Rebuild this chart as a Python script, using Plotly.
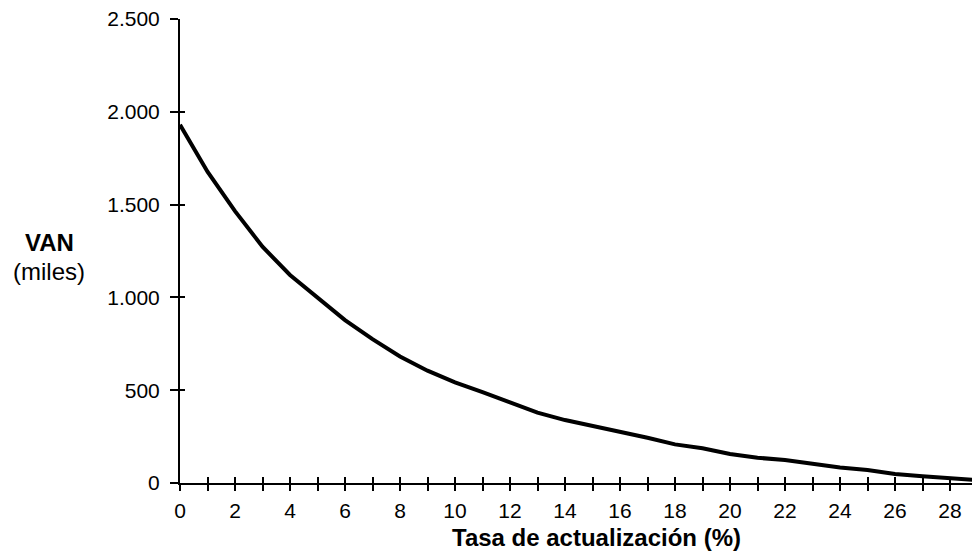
import plotly.graph_objects as go

tasa = [0, 1, 2, 3, 4, 5, 6, 7, 8, 9, 10, 11, 12, 13, 14, 15, 16, 17, 18, 19, 20,
        21, 22, 23, 24, 25, 26, 27, 28, 29]
van = [1930, 1677, 1465, 1273, 1121, 997, 878, 775, 682, 605, 542, 489, 435, 379, 339,
       309, 276, 244, 208, 187, 156, 136, 124, 102, 83, 70, 48, 36, 25, 16]

y_ticks = [0, 500, 1000, 1500, 2000, 2500]
y_labels = ["0", "500", "1.000", "1.500", "2.000", "2.500"]
x_ticks = list(range(0, 29, 2))
x_minor = list(range(0, 29))

font = "Liberation Sans, Arial, sans-serif"
X_RANGE = [0, 28.8]
Y_RANGE = [0, 2500]

W, H = 972, 551
L, R, T, B = 180, 0, 19, 68
PW, PH = W - L - R, H - T - B


def px_x(x):
    return (x - L) / PW


def px_y(y):
    return (H - B - y) / PH


fig = go.Figure()
fig.add_trace(go.Scatter(x=tasa, y=van, mode="lines",
                         line=dict(color="black", width=4), showlegend=False))
# invisible traces so the overlay axes are drawn
fig.add_trace(go.Scatter(x=[0], y=[0], xaxis="x2", yaxis="y2", mode="markers",
                         marker=dict(opacity=0), showlegend=False, hoverinfo="skip"))

tick_common = dict(tickwidth=1.5, tickcolor="black", showgrid=False,
                   zeroline=False, automargin=False)

fig.update_layout(
    width=W, height=H,
    margin=dict(l=L, r=R, t=T, b=B, autoexpand=False),
    paper_bgcolor="white", plot_bgcolor="white",
    font=dict(family=font, size=21, color="black"),
    xaxis=dict(range=X_RANGE, tickvals=x_ticks, ticks="outside", ticklen=6,
               showline=True, linecolor="black", linewidth=2,
               minor=dict(tickvals=x_minor, ticks="outside", ticklen=6,
                          tickwidth=1.5, tickcolor="black", showgrid=False),
               tickfont=dict(size=21), ticklabelstandoff=2, **tick_common),
    xaxis2=dict(range=X_RANGE, overlaying="x", side="bottom", anchor="y2",
                tickvals=x_minor, ticks="inside", ticklen=6,
                showticklabels=False, showline=False, **tick_common),
    yaxis=dict(range=Y_RANGE, tickvals=y_ticks, ticktext=y_labels,
               ticks="outside", ticklen=8, showline=True, linecolor="black",
               linewidth=2, tickfont=dict(size=21), ticklabelstandoff=6,
               **tick_common),
    yaxis2=dict(range=Y_RANGE, overlaying="y", side="left", anchor="x2",
                tickvals=y_ticks, ticks="inside", ticklen=5,
                showticklabels=False, showline=False, **tick_common),
    annotations=[
        dict(text="<b>Tasa de actualización (%)</b>", x=px_x(596), y=px_y(537),
             xref="paper", yref="paper", xanchor="center", yanchor="middle",
             showarrow=False, font=dict(size=24)),
        dict(text="<b>VAN</b>", x=px_x(49), y=px_y(242), xref="paper",
             yref="paper", xanchor="center", yanchor="middle",
             showarrow=False, font=dict(size=24)),
        dict(text="(miles)", x=px_x(48.5), y=px_y(271), xref="paper",
             yref="paper", xanchor="center", yanchor="middle",
             showarrow=False, font=dict(size=24)),
    ],
)

fig.write_html(
    "out.html",
    config={"displayModeBar": False},
    post_script="document.body.style.margin='0';document.body.style.overflow='hidden';",
)
